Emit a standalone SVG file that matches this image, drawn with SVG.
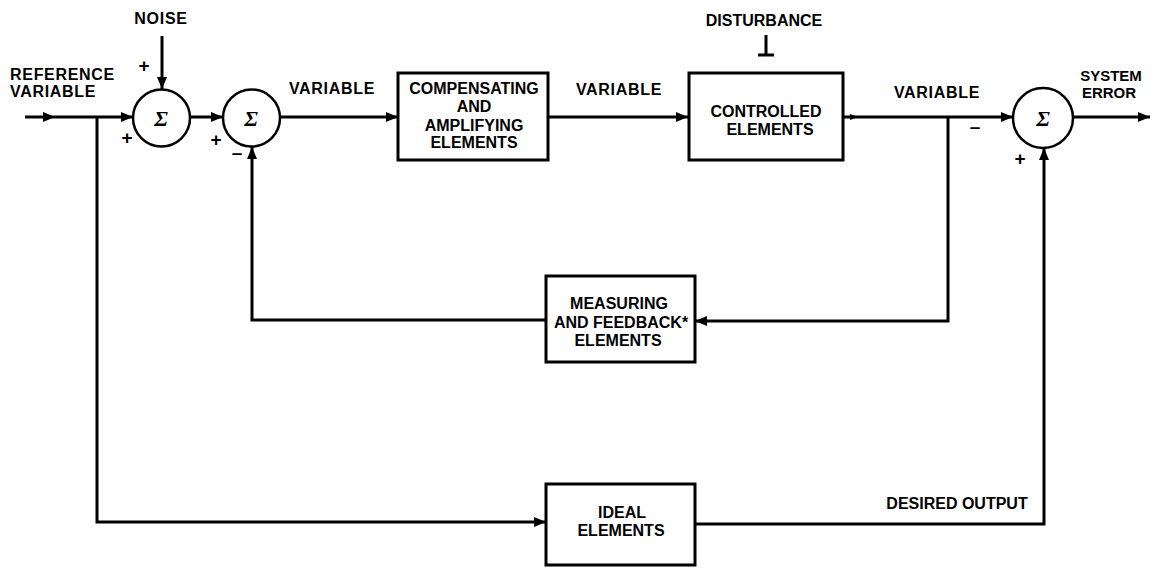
<svg xmlns="http://www.w3.org/2000/svg" width="1152" height="568" viewBox="0 0 1152 568">
<defs>
<marker id="ah" viewBox="0 0 12 10" refX="12" refY="5" markerWidth="12" markerHeight="10" markerUnits="userSpaceOnUse" orient="auto">
<path d="M0,0 L12,5 L0,10 Z" fill="#000"/>
</marker>
<marker id="ahs" viewBox="0 0 8 6" refX="8" refY="3" markerWidth="8" markerHeight="6" markerUnits="userSpaceOnUse" orient="auto">
<path d="M0,0 L8,3 L0,6 Z" fill="#000"/>
</marker>
</defs>
<style>
text{font-family:"Liberation Sans",Arial,sans-serif;font-weight:bold;font-size:16px;fill:#000}
.m{text-anchor:middle}
.w{letter-spacing:0.7px}
.s{font-size:15px}
.p{font-size:19px}
.sig{font-family:"Liberation Serif","Times New Roman",serif;font-style:italic;font-weight:bold;font-size:22px}
.box{fill:#fff;stroke:#000;stroke-width:3}
.sum{fill:#fff;stroke:#000;stroke-width:2.5}
.ln{fill:none;stroke:#000;stroke-width:3}
</style>
<rect width="1152" height="568" fill="#fff"/>
<g id="connectors">
<path class="ln" d="M25,117 L55,117" marker-end="url(#ah)"/>
<path class="ln" d="M55,117 L133,117" marker-end="url(#ah)"/>
<path class="ln" d="M162,36 L162,89" marker-end="url(#ah)"/>
<path class="ln" d="M190,117 L223,117" marker-end="url(#ah)"/>
<path class="ln" d="M280,117 L398,117" marker-end="url(#ah)"/>
<path class="ln" d="M548,117 L688,117" marker-end="url(#ah)"/>
<path class="ln" d="M843,117 L858,117" marker-end="url(#ahs)"/>
<path class="ln" d="M858,117 L1013,117" marker-end="url(#ah)"/>
<path class="ln" d="M1073,117 L1150,117" marker-end="url(#ah)"/>
<path class="ln" d="M948,117 L948,321 L695,321" marker-end="url(#ah)"/>
<path class="ln" d="M546,320 L252,320 L252,147" marker-end="url(#ah)"/>
<path class="ln" d="M97,117 L97,522 L546,522" marker-end="url(#ah)"/>
<path class="ln" d="M695,524 L1044,524 L1044,148" marker-end="url(#ah)"/>
<path class="ln" d="M766,35 L766,55 M758,55 L774,55"/>
</g>
<g id="sum1">
<circle class="sum" cx="161.5" cy="118" r="28.5"/>
<text class="sig m" x="161" y="126">Σ</text>
</g>
<g id="sum2">
<circle class="sum" cx="251.5" cy="118" r="28.5"/>
<text class="sig m" x="251" y="126">Σ</text>
</g>
<g id="sum3">
<circle class="sum" cx="1043" cy="118" r="30"/>
<text class="sig m" x="1043" y="126">Σ</text>
</g>
<g id="compensating">
<rect class="box" x="398" y="73" width="150" height="87"/>
<text class="m" x="474" y="94">COMPENSATING</text>
<text class="m" x="474" y="112">AND</text>
<text class="m" x="474" y="131">AMPLIFYING</text>
<text class="m" x="474" y="148">ELEMENTS</text>
</g>
<g id="controlled">
<rect class="box" x="689" y="73" width="154" height="87"/>
<text class="m" x="766" y="117">CONTROLLED</text>
<text class="m" x="770" y="135">ELEMENTS</text>
</g>
<g id="measuring">
<rect class="box" x="546" y="276" width="149" height="86"/>
<text class="m" x="619" y="309">MEASURING</text>
<text class="m" x="621" y="328">AND FEEDBACK*</text>
<text class="m" x="618" y="346">ELEMENTS</text>
</g>
<g id="ideal">
<rect class="box" x="546" y="484" width="149" height="81"/>
<text class="m" x="622" y="518">IDEAL</text>
<text class="m" x="621" y="536">ELEMENTS</text>
</g>
<g id="labels">
<text class="m w" x="161" y="24">NOISE</text>
<text class="w" x="10" y="80">REFERENCE</text>
<text class="w" x="10" y="97">VARIABLE</text>
<text class="m w" x="332" y="94">VARIABLE</text>
<text class="m w" x="619" y="95">VARIABLE</text>
<text class="m" x="764" y="26">DISTURBANCE</text>
<text class="m w" x="937" y="98">VARIABLE</text>
<text class="m s" x="1111" y="81">SYSTEM</text>
<text class="m s" x="1109" y="98">ERROR</text>
<text class="m" x="957" y="509">DESIRED OUTPUT</text>
<text class="m p" x="144" y="72">+</text>
<text class="m p" x="127" y="144">+</text>
<text class="m p" x="216" y="146">+</text>
<text class="m p" x="237" y="159">–</text>
<text class="m p" x="975" y="133">–</text>
<text class="m p" x="1020" y="165">+</text>
</g>
</svg>
